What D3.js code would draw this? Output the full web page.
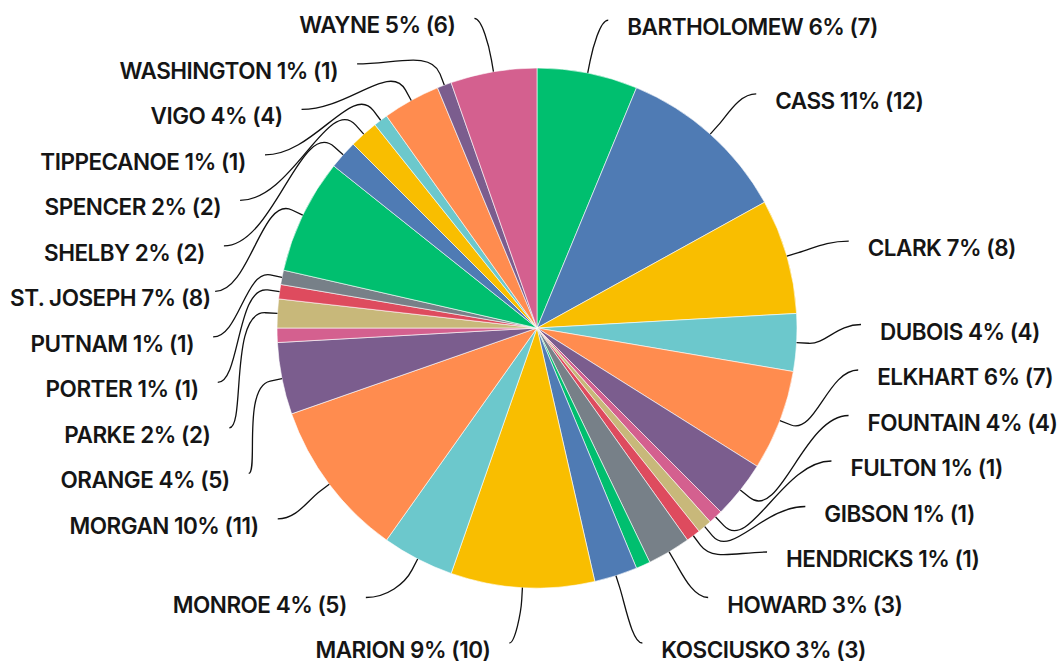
<!DOCTYPE html>
<html>
<head>
<meta charset="utf-8">
<script src="https://cdn.jsdelivr.net/npm/d3@7"></script>
<style>
  body { margin: 0; background: #fff; }
  svg { display: block; }
</style>
</head>
<body>
<div id="chart"></div>
<script>
// counties in slice order (clockwise from 12 o'clock)
var counties = ["BARTHOLOMEW", "CASS", "CLARK", "DUBOIS", "ELKHART", "FOUNTAIN", "FULTON",
  "GIBSON", "HENDRICKS", "HOWARD", "JACKSON", "KOSCIUSKO", "MARION", "MONROE", "MORGAN",
  "ORANGE", "OWEN", "PARKE", "PORTER", "PUTNAM", "ST. JOSEPH", "SHELBY", "SPENCER",
  "TIPPECANOE", "VIGO", "WASHINGTON", "WAYNE"];
var counts = [7, 12, 8, 4, 7, 4, 1, 1, 1, 3, 1, 3, 10, 5, 11, 5, 1, 2, 1, 1, 8, 2, 2, 1, 4, 1, 6];
// slices whose label is not drawn in the chart
var unlabeled = ["JACKSON", "OWEN"];

// color pallete (cycles)
var colors = ["#00bf6f", "#4f7bb4", "#f9be00", "#6cc8cc", "#ff8c4f",
  "#7b5d8e", "#d4608f", "#c8b87a", "#de4b5e", "#778088"];

var width = 1062, height = 664;
var cx = 537, cy = 328, radius = 260;
var labelR = 314, len2 = 10, rowH = 45.5, yMin = 10, yMax = 643;
var textGap = 19, hook = 12, edgePad = 10;

var total = d3.sum(counts);
var data = counties.map(function(c, i) {
  return { name: c, count: counts[i], color: colors[i % colors.length] };
});

var svg = d3.select("#chart").append("svg")
  .attr("width", width)
  .attr("height", height);

var pie = d3.pie().sort(null).value(function(d) { return d.count; });
var arc = d3.arc().innerRadius(0).outerRadius(radius);
var arcs = pie(data);

svg.append("g")
  .attr("transform", "translate(" + cx + "," + cy + ")")
  .selectAll("path")
  .data(arcs)
  .join("path")
  .attr("d", arc)
  .attr("fill", function(d) { return d.data.color; })
  .attr("stroke", "#fff")
  .attr("stroke-width", 0.6);

// label layout: ideal spot on a circle, then stack each side so rows don't overlap
var labels = arcs.filter(function(d) { return unlabeled.indexOf(d.data.name) < 0; })
  .map(function(d) {
    var a = (d.startAngle + d.endAngle) / 2;
    var ux = Math.sin(a), uy = -Math.cos(a);
    var side = ux < 0 ? -1 : 1;
    return { d: d, ux: ux, uy: uy, side: side,
      y: cy + labelR * uy, idealX: cx + labelR * ux + side * len2 };
  });

[-1, 1].forEach(function(side) {
  var list = labels.filter(function(l) { return l.side === side; })
    .sort(function(a, b) { return a.y - b.y; });
  for (var i = 0; i < list.length; i++) {
    list[i].y = Math.max(list[i].y, i ? list[i - 1].y + rowH : yMin);
  }
  var n = list.length;
  if (list[n - 1].y > yMax) {
    list[n - 1].y = yMax;
    for (var j = n - 2; j >= 0; j--) {
      if (list[j].y > list[j + 1].y - rowH) list[j].y = list[j + 1].y - rowH;
      else break;
    }
  }
  list.forEach(function(l) {
    var dy = Math.abs(l.y - cy);
    l.x = dy < labelR ? cx + side * (Math.sqrt(labelR * labelR - dy * dy) + len2) : l.idealX;
  });
});

// curved leader line: short radial stub, then bend into a horizontal end
var leader = function(l) {
  var p0 = [cx + radius * l.ux, cy + radius * l.uy];
  var q = [p0[0] + hook * l.ux, p0[1] + hook * l.uy];
  var dist = Math.hypot(l.x - q[0], l.y - q[1]);
  var k1 = dist * 0.3, k2 = Math.abs(l.x - q[0]) * 0.45;
  var p = d3.path();
  p.moveTo(p0[0], p0[1]);
  p.lineTo(q[0], q[1]);
  p.bezierCurveTo(q[0] + l.ux * k1, q[1] + l.uy * k1, l.x - l.side * k2, l.y, l.x, l.y);
  return p.toString();
};

svg.append("g")
  .selectAll("path")
  .data(labels)
  .join("path")
  .attr("d", leader)
  .attr("fill", "none")
  .attr("stroke", "#111")
  .attr("stroke-width", 1.3);

var texts = svg.append("g")
  .selectAll("text")
  .data(labels)
  .join("text")
  .attr("x", function(l) { return l.x + l.side * textGap; })
  .attr("y", function(l) { return l.y + 15; })
  .attr("text-anchor", function(l) { return l.side < 0 ? "end" : "start"; })
  .style("font-family", "Inter, sans-serif")
  .style("font-weight", 600)
  .style("font-size", "22.5px")
  .style("letter-spacing", "-0.5px")
  .style("fill", "#151515")
  .text(function(l) {
    var c = l.d.data.count;
    return l.d.data.name + " " + Math.round(c / total * 100) + "% (" + c + ")";
  });

// keep left labels inside the view
texts.each(function(l) {
  if (l.side > 0) return;
  var w = this.getComputedTextLength();
  var x = +d3.select(this).attr("x");
  if (x - w < edgePad) d3.select(this).attr("x", edgePad + w);
});
</script>
</body>
</html>
